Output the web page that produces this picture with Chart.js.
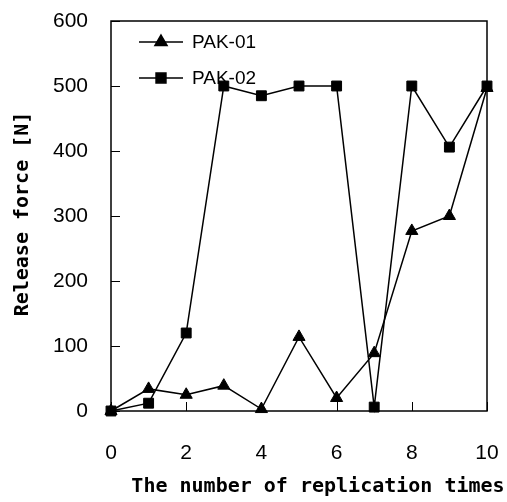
<!DOCTYPE html>
<html>
<head>
<meta charset="utf-8">
<script src="https://cdn.jsdelivr.net/npm/chart.js@4"></script>
<style>
  html, body { margin: 0; padding: 0; background: #fff; }
  #wrap { width: 507px; height: 502px; }
</style>
</head>
<body>
<div id="wrap"><canvas id="myChart" width="507" height="502"></canvas></div>
<script>
const ctx = document.getElementById('myChart').getContext('2d')

const replications = [0, 1, 2, 3, 4, 5, 6, 7, 8, 9, 10]
const pak01 = [0, 34, 25, 39, 3, 114, 20, 89, 277, 300, 497]
const pak02 = [0, 12, 120, 500, 485, 500, 500, 6, 500, 406, 500]
const yTicks = [0, 100, 200, 300, 400, 500, 600]
const xTicks = [0, 2, 4, 6, 8, 10]

const xTitle = 'The number of replication times'
const yTitle = 'Release force [N]'

const toPoints = vals => vals.map((v, i) => ({ x: replications[i], y: v }))

// box, inward tick marks, legend and axis titles
const frame = {
  id: 'frame',
  afterDraw(chart) {
    const c = chart.ctx
    const a = chart.chartArea
    const xs = chart.scales.x
    const ys = chart.scales.y
    c.save()
    c.strokeStyle = '#000'
    c.lineWidth = 1
    yTicks.forEach(t => {
      const py = Math.round(ys.getPixelForValue(t)) + 0.5
      c.beginPath(); c.moveTo(a.left, py); c.lineTo(a.left + 9, py); c.stroke()
    })
    xTicks.forEach(t => {
      const px = Math.round(xs.getPixelForValue(t)) + 0.5
      c.beginPath(); c.moveTo(px, a.bottom); c.lineTo(px, a.bottom - 9); c.stroke()
    })
    c.lineWidth = 1.5
    c.strokeRect(a.left, a.top, a.right - a.left, a.bottom - a.top)

    // legend
    chart.data.datasets.forEach((ds, i) => {
      const ly = a.top + 21 + i * 36
      const lx = a.left + 28
      c.lineWidth = 1.5
      c.beginPath(); c.moveTo(lx, ly); c.lineTo(lx + 44, ly); c.stroke()
      Chart.helpers.drawPoint(c, {
        pointStyle: ds.pointStyle, radius: ds.pointRadius, rotation: 0, borderWidth: 1
      }, lx + 22, ly)
      c.fillStyle = '#000'
      c.font = '19px "Liberation Sans", Arial, sans-serif'
      c.textAlign = 'left'
      c.textBaseline = 'middle'
      c.fillText(ds.label, lx + 53, ly + 1)
    })

    // axis titles
    c.fillStyle = '#000'
    c.font = 'bold 20px "DejaVu Sans Mono", monospace'
    c.textAlign = 'center'
    c.textBaseline = 'middle'
    c.fillText(xTitle, 318, 487)
    c.translate(23, 214)
    c.rotate(-Math.PI / 2)
    c.fillText(yTitle, 0, 0)
    c.restore()
  }
}

const data = {
  datasets: [{
    label: 'PAK-01',
    data: toPoints(pak01),
    pointStyle: 'triangle',
    pointRadius: 7
  }, {
    label: 'PAK-02',
    data: toPoints(pak02),
    pointStyle: 'rect',
    pointRadius: 7
  }].map(d => Object.assign({
    borderColor: '#000',
    backgroundColor: '#000',
    borderWidth: 1.5,
    pointBorderWidth: 1,
    fill: false,
    tension: 0,
    clip: false
  }, d))
}

const tickFont = { family: '"Liberation Sans", Arial, sans-serif', size: 21 }

const config = {
  type: 'line',
  data,
  options: {
    responsive: false,
    animation: false,
    layout: { padding: { left: 0, top: 21, right: 20, bottom: 0 } },
    plugins: { legend: { display: false }, tooltip: { enabled: false } },
    scales: {
      x: {
        type: 'linear',
        min: 0,
        max: 10,
        afterFit: s => { s.height = 91; s.paddingLeft = 0; s.paddingRight = 0 },
        afterBuildTicks: s => { s.ticks = xTicks.map(v => ({ value: v })) },
        grid: { display: false, drawTicks: false },
        border: { display: false },
        ticks: { color: '#000', font: tickFont, padding: 30, maxRotation: 0 }
      },
      y: {
        min: 0,
        max: 600,
        afterFit: s => { s.width = 111; s.paddingTop = 0; s.paddingBottom = 0 },
        afterBuildTicks: s => { s.ticks = yTicks.map(v => ({ value: v })) },
        grid: { display: false, drawTicks: false },
        border: { display: false },
        ticks: { color: '#000', font: tickFont, padding: 23 }
      }
    }
  },
  plugins: [frame]
}

const myChart = new Chart(ctx, config)
</script>
</body>
</html>
